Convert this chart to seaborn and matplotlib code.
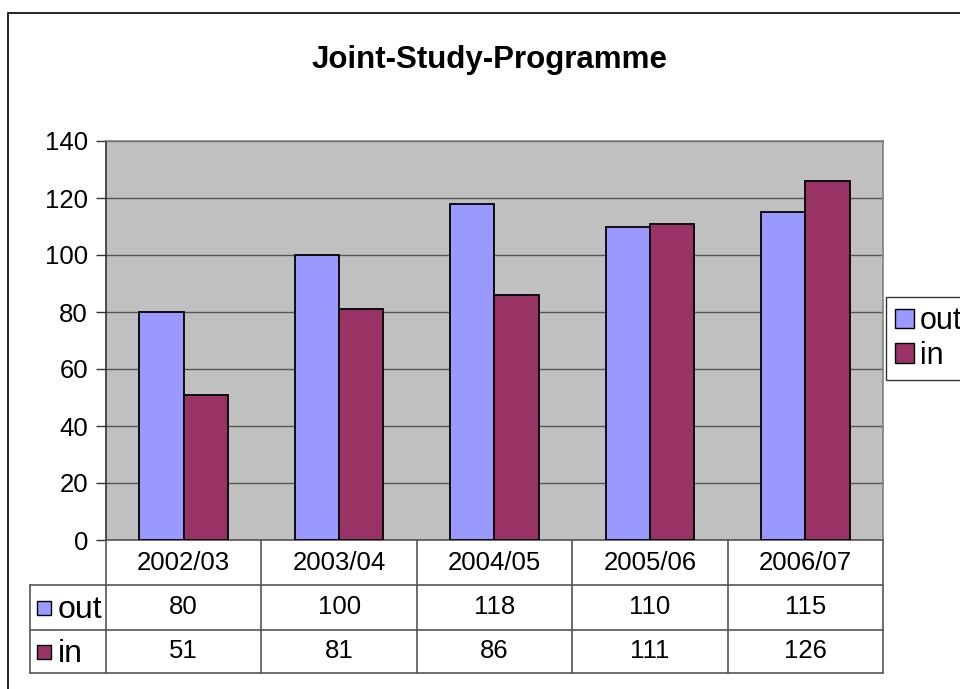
import pandas as pd
import seaborn as sns
import matplotlib.pyplot as plt
from matplotlib.patches import Rectangle
from matplotlib.transforms import blended_transform_factory

# data
years = ["2002/03", "2003/04", "2004/05", "2005/06", "2006/07"]
out_vals = [80, 100, 118, 110, 115]
in_vals = [51, 81, 86, 111, 126]
series = ["out", "in"]
colors = {"out": "#9999FF", "in": "#993366"}

df = pd.DataFrame({"Year": years * 2,
                   "Value": out_vals + in_vals,
                   "Series": ["out"] * len(years) + ["in"] * len(years)})

sns.set_style("white")
plt.rcParams['font.family'] = ['Liberation Sans', 'DejaVu Sans']
plt.rcParams['text.color'] = "black"

fig = plt.figure(figsize=(9.6, 6.89), dpi=100)
ax = fig.add_axes([106/960, 1-540/689, 777/960, 399/689])
ax.set_facecolor("#C0C0C0")

sns.barplot(data=df, x="Year", y="Value", hue="Series", order=years,
            hue_order=series, palette=colors, saturation=1, width=0.571, gap=0,
            edgecolor="black", linewidth=1.3, ax=ax, legend=False, zorder=3)

ax.set_ylim(0, 140)
ax.set_xlim(-0.5, 4.5)
ax.set_yticks(range(0, 141, 20))
ax.yaxis.grid(True, color="#555555", linewidth=1, zorder=0)
ax.set_axisbelow(True)
ax.tick_params(axis="y", labelsize=18.5, length=7, width=1, color="#333333",
               labelcolor="black", pad=6, left=True)
ax.set_xticks([])
ax.set_xlabel("")
ax.set_ylabel("")
for s in ["top", "right"]:
    ax.spines[s].set_color("#808080")
ax.spines["left"].set_color("#333333")
ax.spines["bottom"].set_color("#555555")
for s in ax.spines.values():
    s.set_linewidth(1.2)

fig.text(490/960, 1-60/689, "Joint-Study-Programme", ha="center", va="center",
         fontsize=22.5, fontweight="bold")

# data table below plot
tr = blended_transform_factory(ax.transData, ax.transAxes)
lc = "#555555"
r1, r2, r3 = -45/399, -90/399, -133/399
xl = -76/777
for yy in [r1, r2, r3]:
    ax.plot([xl, 1], [yy, yy], color=lc, lw=1.2, transform=ax.transAxes, clip_on=False)
for i in range(6):
    ax.plot([i/5, i/5], [0, r3], color=lc, lw=1.2, transform=ax.transAxes, clip_on=False)
ax.plot([xl, xl], [r1, r3], color=lc, lw=1.2, transform=ax.transAxes, clip_on=False)

for i, yr in enumerate(years):
    ax.text(i, (0 + r1) / 2, yr, transform=tr, ha="center", va="center", fontsize=18.5)
    ax.text(i, (r1 + r2) / 2, str(out_vals[i]), transform=tr, ha="center", va="center", fontsize=18.5)
    ax.text(i, (r2 + r3) / 2, str(in_vals[i]), transform=tr, ha="center", va="center", fontsize=18.5)

for name, yc in [("out", (r1 + r2) / 2), ("in", (r2 + r3) / 2)]:
    ax.add_patch(Rectangle((-69/777, yc - 7/399), 14/777, 14/399, facecolor=colors[name],
                           edgecolor="black", lw=1, transform=ax.transAxes, clip_on=False))
    ax.text(-48/777, yc - 2/399, name, transform=ax.transAxes, ha="left", va="center", fontsize=23)

# legend on the right (cut off at the figure edge, as in the original)
handles = [Rectangle((0, 0), 1, 1, facecolor=colors[s], edgecolor="black", lw=1) for s in series]
fig.legend(handles, series, loc="upper left", bbox_to_anchor=(886/960, 1-297/689),
           fontsize=22, frameon=True, fancybox=False, edgecolor="black",
           handlelength=0.6, handleheight=0.6, handletextpad=0.2,
           borderpad=0.3, labelspacing=0.15, borderaxespad=0)

# chart border
fig.patches.append(Rectangle((8/960, -0.1), 1.1, 1.1 - 13/689, fill=False,
                             edgecolor="black", lw=1.2, transform=fig.transFigure))

fig.savefig("out.png", dpi=100)
